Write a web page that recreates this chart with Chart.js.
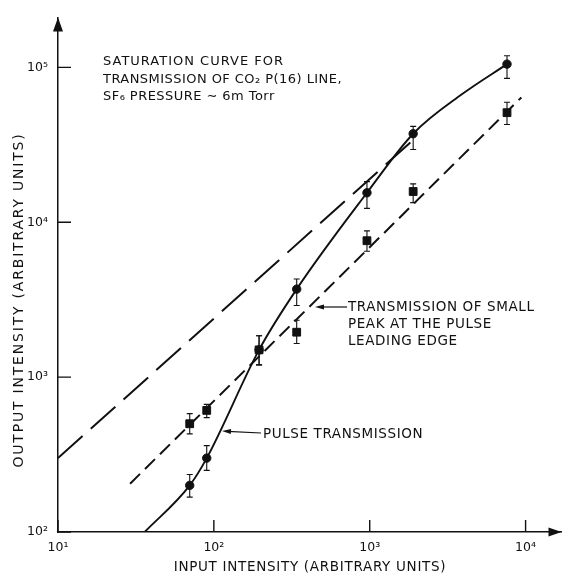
<!DOCTYPE html>
<html lang="en">
<head>
  <meta charset="UTF-8">
  <title>Saturation curve</title>
  <script src="https://cdn.jsdelivr.net/npm/chart.js"></script>
  <style>
    body { margin: 0; background: #fff; }
    #wrap { width: 568px; height: 575px; }
  </style>
</head>
<body>
  <div id="wrap"><canvas id="chart"></canvas></div>

  <script>
    // measured points (circles = pulse transmission, squares = small leading-edge peak)
    const circleX = [70, 90, 195, 340, 960, 1900, 7600];
    const circleY = [200, 300, 1500, 3700, 15500, 37300, 105000];
    const circleLo = [168, 250, 1200, 2900, 12300, 29500, 85000];
    const circleHi = [235, 361, 1850, 4300, 18300, 41600, 119000];

    const squareX = [70, 90, 195, 340, 960, 1900, 7600];
    const squareY = [500, 610, 1500, 1950, 7600, 15800, 51000];
    const squareLo = [430, 548, 1200, 1650, 6500, 13400, 42800];
    const squareHi = [581, 667, 1850, 2330, 8800, 17700, 59600];

    // drawn curves
    const pulseCurveX = [36, 70, 90, 195, 340, 960, 1900, 3900, 7600];
    const pulseCurveY = [100, 200, 300, 1500, 3700, 15500, 37300, 67000, 105000];
    const longDashX = [10, 1840];
    const longDashY = [300, 33000];
    const shortDashX = [29, 9400];
    const shortDashY = [205, 64000];

    // axes
    const xRange = [10, 17000];
    const yRange = [100, 210000];
    const supers = { 1: '¹', 2: '²', 3: '³', 4: '⁴', 5: '⁵' };

    const FONT = '"DejaVu Sans", sans-serif';
    const pts = (xs, ys) => xs.map((x, i) => ({ x, y: ys[i] }));
    const isDecade = v => { const l = Math.log10(v); return Math.abs(l - Math.round(l)) < 1e-9; };
    const decadeLabel = v => '10' + (supers[Math.round(Math.log10(v))] || '');

    function text(ctx, str, x, y, size, spacing, align) {
      ctx.save();
      ctx.font = size + 'px ' + FONT;
      ctx.fillStyle = '#111';
      ctx.textBaseline = 'middle';
      ctx.textAlign = align || 'left';
      if ('letterSpacing' in ctx) ctx.letterSpacing = spacing + 'px';
      ctx.fillText(str, x, y);
      ctx.restore();
    }

    function arrow(ctx, x0, y0, x1, y1, len, half) {
      // line from (x0,y0) to tip (x1,y1) with filled head
      const a = Math.atan2(y1 - y0, x1 - x0);
      ctx.beginPath();
      ctx.moveTo(x0, y0);
      ctx.lineTo(x1 - Math.cos(a) * len * 0.6, y1 - Math.sin(a) * len * 0.6);
      ctx.stroke();
      ctx.beginPath();
      ctx.moveTo(x1, y1);
      ctx.lineTo(x1 - Math.cos(a) * len - Math.sin(a) * half, y1 - Math.sin(a) * len + Math.cos(a) * half);
      ctx.lineTo(x1 - Math.cos(a) * len + Math.sin(a) * half, y1 - Math.sin(a) * len - Math.cos(a) * half);
      ctx.closePath();
      ctx.fill();
    }

    const errorBars = {
      id: 'errorBars',
      afterDatasetsDraw(chart) {
        const ctx = chart.ctx, xs = chart.scales.x, ys = chart.scales.y;
        ctx.save();
        ctx.strokeStyle = '#111';
        ctx.lineWidth = 1.1;
        const draw = (X, lo, hi) => X.forEach((v, i) => {
          const px = xs.getPixelForValue(v);
          const a = ys.getPixelForValue(hi[i]), b = ys.getPixelForValue(lo[i]);
          ctx.beginPath();
          ctx.moveTo(px, a); ctx.lineTo(px, b);
          ctx.moveTo(px - 3, a); ctx.lineTo(px + 3, a);
          ctx.moveTo(px - 3, b); ctx.lineTo(px + 3, b);
          ctx.stroke();
        });
        draw(circleX, circleLo, circleHi);
        draw(squareX, squareLo, squareHi);
        ctx.restore();
      }
    };

    const decorations = {
      id: 'decorations',
      afterDraw(chart) {
        const ctx = chart.ctx, area = chart.chartArea;
        const xs = chart.scales.x, ys = chart.scales.y;
        ctx.save();
        ctx.strokeStyle = '#111';
        ctx.fillStyle = '#111';
        ctx.lineWidth = 1.4;

        // inward tick marks
        ctx.beginPath();
        xs.ticks.forEach(t => {
          const px = xs.getPixelForValue(t.value);
          ctx.moveTo(px, area.bottom); ctx.lineTo(px, area.bottom - 12);
        });
        ys.ticks.forEach(t => {
          const py = ys.getPixelForValue(t.value);
          ctx.moveTo(area.left, py); ctx.lineTo(area.left + 13, py);
        });
        ctx.stroke();

        // axis arrow heads
        ctx.beginPath();
        ctx.moveTo(area.left, area.top);
        ctx.lineTo(area.left - 5, area.top + 14);
        ctx.lineTo(area.left + 5, area.top + 14);
        ctx.closePath();
        ctx.fill();
        ctx.beginPath();
        ctx.moveTo(area.right, area.bottom);
        ctx.lineTo(area.right - 13, area.bottom - 4.5);
        ctx.lineTo(area.right - 13, area.bottom + 4.5);
        ctx.closePath();
        ctx.fill();

        // annotation arrows
        ctx.lineWidth = 1.2;
        arrow(ctx, 261, 433, 222, 431, 9, 2.5);
        arrow(ctx, 347, 307, 315, 307, 9, 2.5);

        // axis titles
        text(ctx, 'INPUT INTENSITY (ARBITRARY UNITS)', 310, 567, 13.5, 0.7, 'center');
        ctx.save();
        ctx.translate(19, 300);
        ctx.rotate(-Math.PI / 2);
        text(ctx, 'OUTPUT INTENSITY (ARBITRARY UNITS)', 0, 0, 14, 1.8, 'center');
        ctx.restore();

        // heading
        text(ctx, 'SATURATION CURVE FOR', 103, 62, 13, 1.0);
        text(ctx, 'TRANSMISSION OF CO₂ P(16) LINE,', 103, 80, 13, 0.45);
        text(ctx, 'SF₆ PRESSURE ∼ 6m Torr', 103, 97, 13, 0.45);

        // curve labels
        text(ctx, 'PULSE TRANSMISSION', 263, 434, 13.5, 0.6);
        text(ctx, 'TRANSMISSION OF SMALL', 348, 307, 13.5, 0.6);
        text(ctx, 'PEAK AT THE PULSE', 348, 324, 13.5, 0.6);
        text(ctx, 'LEADING EDGE', 348, 341, 13.5, 0.6);
        ctx.restore();
      }
    };

    new Chart(document.getElementById('chart'), {
      type: 'scatter',
      data: {
        datasets: [
          {
            type: 'line',
            data: pts(pulseCurveX, pulseCurveY),
            borderColor: '#111',
            borderWidth: 1.9,
            pointRadius: 0,
            cubicInterpolationMode: 'monotone',
            fill: false
          },
          {
            type: 'line',
            data: pts(longDashX, longDashY),
            borderColor: '#111',
            borderWidth: 2,
            borderDash: [33, 11],
            pointRadius: 0,
            fill: false
          },
          {
            type: 'line',
            data: pts(shortDashX, shortDashY),
            borderColor: '#111',
            borderWidth: 2,
            borderDash: [14, 7],
            pointRadius: 0,
            fill: false
          },
          {
            data: pts(squareX, squareY),
            pointStyle: 'rect',
            pointRadius: 5.5,
            backgroundColor: '#111',
            borderColor: '#111'
          },
          {
            data: pts(circleX, circleY),
            pointStyle: 'circle',
            pointRadius: 4.2,
            backgroundColor: '#111',
            borderColor: '#111'
          }
        ]
      },
      options: {
        responsive: true,
        maintainAspectRatio: false,
        animation: false,
        layout: { padding: { top: 12, right: 1, left: 0, bottom: 0 } },
        plugins: { legend: { display: false }, tooltip: { enabled: false } },
        scales: {
          x: {
            type: 'logarithmic',
            min: xRange[0],
            max: xRange[1],
            afterBuildTicks: s => { s.ticks = s.ticks.filter(t => isDecade(t.value)); },
            afterFit: s => { s.height = 43; },
            grid: { display: true, drawOnChartArea: false, drawTicks: false },
            border: { display: true, color: '#111', width: 1.5 },
            ticks: {
              autoSkip: false,
              maxRotation: 0,
              padding: 8,
              color: '#111',
              font: { family: FONT, size: 12.5 },
              callback: v => isDecade(v) ? decadeLabel(v) : ''
            }
          },
          y: {
            type: 'logarithmic',
            min: yRange[0],
            max: yRange[1],
            afterBuildTicks: s => { s.ticks = s.ticks.filter(t => isDecade(t.value)); },
            afterFit: s => { s.width = 58; },
            grid: { display: true, drawOnChartArea: false, drawTicks: false },
            border: { display: true, color: '#111', width: 1.5 },
            ticks: {
              autoSkip: false,
              padding: 10,
              color: '#111',
              font: { family: FONT, size: 12.5 },
              callback: v => isDecade(v) ? decadeLabel(v) : ''
            }
          }
        }
      },
      plugins: [errorBars, decorations]
    });
  </script>
</body>
</html>
